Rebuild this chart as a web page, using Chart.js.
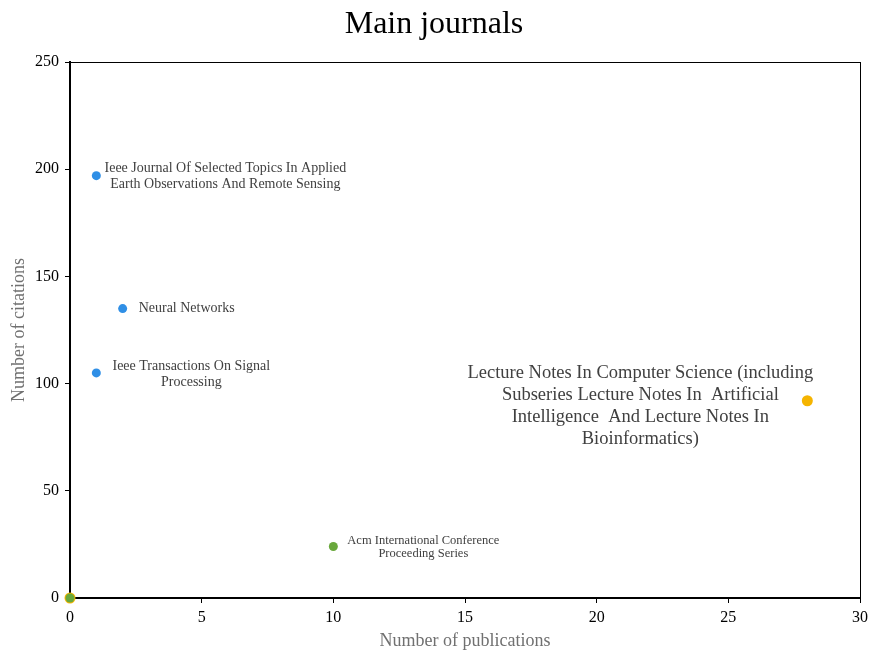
<!DOCTYPE html>
<html><head><meta charset="utf-8">
<script src="https://cdn.jsdelivr.net/npm/chart.js@4/dist/chart.umd.min.js"></script>
<style>html,body{margin:0;padding:0;background:#fff}#wrap{width:875px;height:653px}</style>
</head><body><div id="wrap"><canvas id="c" width="875" height="653"></canvas></div>
<script>
// Data
const blueJournals = [
  ["Ieee Journal Of Selected Topics In Applied", "Earth Observations And Remote Sensing"],
  ["Neural Networks"],
  ["Ieee Transactions On Signal", "Processing"]
];
const bluePublications = [1, 2, 1];
const blueCitations = [197, 135, 105];

const yellowJournals = [
  ["Lecture Notes In Computer Science (including", "Subseries Lecture Notes In  Artificial", "Intelligence  And Lecture Notes In", "Bioinformatics)"],
  [""]
];
const yellowPublications = [28, 0];
const yellowCitations = [92, 0];

const greenJournals = [
  ["Acm International Conference", "Proceeding Series"],
  [""]
];
const greenPublications = [10, 0];
const greenCitations = [24, 0];

const xTicks = [0, 5, 10, 15, 20, 25, 30];
const yTicks = [0, 50, 100, 150, 200, 250];

// label styling (offsets in px from each point, font size, line height)
const labelStyles = {
  0: [ {dx:129, dy:-7, size:14, lh:16}, {dx:64, dy:0, size:14, lh:16}, {dx:95, dy:-7, size:14, lh:16} ],
  1: [ {dx:-167, dy:-28, size:18.5, lh:22}, null ],
  2: [ {dx:90, dy:-6, size:12.5, lh:13}, null ]
};

const toPts = (xs, ys) => xs.map((x, i) => ({x: x, y: ys[i]}));
const SERIF = "'Liberation Serif', 'Times New Roman', serif";

const labelPlugin = {
  id: 'pointLabels',
  afterDatasetsDraw(chart) {
    const ctx = chart.ctx;
    chart.data.datasets.forEach((ds, di) => {
      const meta = chart.getDatasetMeta(di);
      meta.data.forEach((pt, i) => {
        const st = labelStyles[di] && labelStyles[di][i];
        const lines = ds.journalNames[i];
        if (!st || !lines) return;
        ctx.save();
        ctx.font = st.size + 'px ' + SERIF;
        ctx.fillStyle = '#404040';
        ctx.textAlign = 'center';
        ctx.textBaseline = 'middle';
        lines.forEach((ln, k) => {
          ctx.fillText(ln, pt.x + st.dx, pt.y + st.dy + k * st.lh);
        });
        ctx.restore();
      });
    });
  }
};

const boxPlugin = {
  id: 'box',
  beforeDatasetsDraw(chart) {
    const a = chart.chartArea, ctx = chart.ctx;
    ctx.save();
    ctx.strokeStyle = '#000';
    ctx.lineWidth = 1;
    ctx.strokeRect(a.left + 0.5, a.top + 0.5, a.right - a.left, a.bottom - a.top);
    ctx.restore();
  }
};

new Chart(document.getElementById('c'), {
  type: 'scatter',
  data: {
    datasets: [
      {label: 'blue', data: toPts(bluePublications, blueCitations), journalNames: blueJournals, order: 2, clip: false,
       backgroundColor: '#2F8FE6', borderColor: '#2F8FE6', pointRadius: 4.5, borderWidth: 0},
      {label: 'yellow', data: toPts(yellowPublications, yellowCitations), journalNames: yellowJournals, order: 1, clip: false,
       backgroundColor: '#F5B400', borderColor: '#F5B400', pointRadius: 5.5, borderWidth: 0},
      {label: 'green', data: toPts(greenPublications, greenCitations), journalNames: greenJournals, order: 0, clip: false,
       backgroundColor: '#69A83C', borderColor: '#69A83C', pointRadius: 4.5, borderWidth: 0}
    ]
  },
  options: {
    responsive: false,
    animation: false,
    layout: {padding: {left: 8, right: 15, top: 0, bottom: 0}},
    plugins: {
      legend: {display: false},
      tooltip: {enabled: false},
      title: {display: true, text: 'Main journals', color: '#000',
        font: {family: SERIF, size: 32, weight: 'normal'}, padding: {top: 5, bottom: 18.6}}
    },
    scales: {
      x: {
        type: 'linear', min: 0, max: 30,
        afterBuildTicks: s => { s.ticks = xTicks.map(v => ({value: v})); },
        afterFit: s => { s.height = 55; },
        border: {display: true, color: '#000', width: 2},
        grid: {display: true, drawOnChartArea: false, drawTicks: true, tickLength: 5, color: '#000'},
        ticks: {color: '#000', font: {family: SERIF, size: 16}, padding: 5, maxRotation: 0},
        title: {display: true, text: 'Number of publications', color: '#707070',
          font: {family: SERIF, size: 18}, padding: {top: 2, bottom: 1}}
      },
      y: {
        type: 'linear', min: 0, max: 250,
        afterBuildTicks: s => { s.ticks = yTicks.map(v => ({value: v})); },
        afterFit: s => { s.width = 62; },
        border: {display: true, color: '#000', width: 2},
        grid: {display: true, drawOnChartArea: false, drawTicks: true, tickLength: 5, color: '#000'},
        ticks: {color: '#000', font: {family: SERIF, size: 16}, padding: 6},
        title: {display: true, text: 'Number of citations', color: '#707070',
          font: {family: SERIF, size: 18}, padding: {top: 0, bottom: 2}}
      }
    }
  },
  plugins: [boxPlugin, labelPlugin]
});
</script>
</body></html>
